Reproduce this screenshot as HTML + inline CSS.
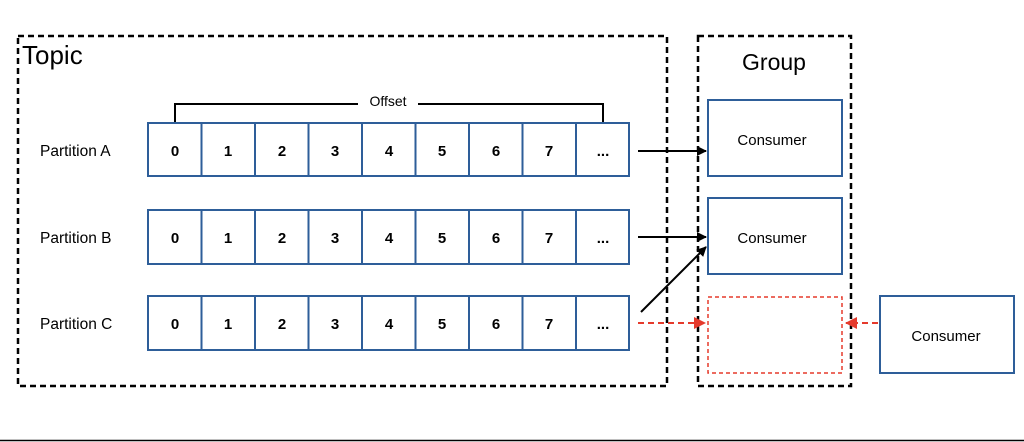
<!DOCTYPE html>
<html><head><meta charset="utf-8"><style>
html,body{margin:0;padding:0;background:#fff;}
svg{display:block;}
text{font-family:"Liberation Sans",Arial,sans-serif;fill:#000;}
</style></head><body>
<svg width="1024" height="442" viewBox="0 0 1024 442" xmlns="http://www.w3.org/2000/svg">
<defs>
<marker id="ab" markerWidth="10" markerHeight="10" refX="9" refY="5" orient="auto" markerUnits="userSpaceOnUse"><path d="M0,0 L10,5 L0,10 z" fill="#000"/></marker>
<marker id="ar" markerWidth="12" markerHeight="12" refX="11" refY="6" orient="auto" markerUnits="userSpaceOnUse"><path d="M0,0 L12,6 L0,12 z" fill="#e53a2c"/></marker>
</defs>
<rect x="18" y="36" width="649" height="350" fill="none" stroke="#000" stroke-width="2.5" stroke-dasharray="6,4"/>
<text x="22" y="64" font-size="26">Topic</text>
<rect x="698" y="36" width="153" height="350" fill="none" stroke="#000" stroke-width="2.5" stroke-dasharray="6,4"/>
<text x="774" y="70" font-size="23" text-anchor="middle">Group</text>
<path d="M175,122 V104 H358 M418,104 H603 V122" fill="none" stroke="#000" stroke-width="2"/>
<text x="388" y="106" font-size="14" text-anchor="middle">Offset</text>
<text x="40" y="156" font-size="15.5">Partition A</text>
<text x="40" y="243" font-size="15.5">Partition B</text>
<text x="40" y="329" font-size="15.5">Partition C</text>
<g fill="#fff" stroke="#2e5e99" stroke-width="2">
<rect x="148" y="123" width="481" height="53"/>
<rect x="148" y="210" width="481" height="54"/>
<rect x="148" y="296" width="481" height="54"/>
<path d="M201.5,123V176M255,123V176M308.5,123V176M362,123V176M415.5,123V176M469,123V176M522.5,123V176M576,123V176
M201.5,210V264M255,210V264M308.5,210V264M362,210V264M415.5,210V264M469,210V264M522.5,210V264M576,210V264
M201.5,296V350M255,296V350M308.5,296V350M362,296V350M415.5,296V350M469,296V350M522.5,296V350M576,296V350"/>
</g>
<g font-size="15" font-weight="bold" text-anchor="middle">
<text y="156"><tspan x="175">0</tspan><tspan x="228">1</tspan><tspan x="282">2</tspan><tspan x="335">3</tspan><tspan x="389">4</tspan><tspan x="442">5</tspan><tspan x="496">6</tspan><tspan x="549">7</tspan><tspan x="603">...</tspan></text>
<text y="243"><tspan x="175">0</tspan><tspan x="228">1</tspan><tspan x="282">2</tspan><tspan x="335">3</tspan><tspan x="389">4</tspan><tspan x="442">5</tspan><tspan x="496">6</tspan><tspan x="549">7</tspan><tspan x="603">...</tspan></text>
<text y="329"><tspan x="175">0</tspan><tspan x="228">1</tspan><tspan x="282">2</tspan><tspan x="335">3</tspan><tspan x="389">4</tspan><tspan x="442">5</tspan><tspan x="496">6</tspan><tspan x="549">7</tspan><tspan x="603">...</tspan></text>
</g>
<rect x="708" y="100" width="134" height="76" fill="#fff" stroke="#2e5e99" stroke-width="2"/>
<text x="772" y="145" font-size="15" text-anchor="middle">Consumer</text>
<rect x="708" y="198" width="134" height="76" fill="#fff" stroke="#2e5e99" stroke-width="2"/>
<text x="772" y="243" font-size="15" text-anchor="middle">Consumer</text>
<rect x="708" y="297" width="134" height="76" fill="none" stroke="#e53a2c" stroke-width="1.5" stroke-dasharray="4,3"/>
<rect x="880" y="296" width="134" height="77" fill="#fff" stroke="#2e5e99" stroke-width="2"/>
<text x="946" y="341" font-size="15" text-anchor="middle">Consumer</text>
<line x1="638" y1="151" x2="706" y2="151" stroke="#000" stroke-width="2" marker-end="url(#ab)"/>
<line x1="638" y1="237" x2="706" y2="237" stroke="#000" stroke-width="2" marker-end="url(#ab)"/>
<line x1="641" y1="312" x2="706" y2="247" stroke="#000" stroke-width="2" marker-end="url(#ab)"/>
<line x1="638" y1="323" x2="705" y2="323" stroke="#e53a2c" stroke-width="2" stroke-dasharray="6,4" marker-end="url(#ar)"/>
<line x1="878" y1="323" x2="846" y2="323" stroke="#e53a2c" stroke-width="2" stroke-dasharray="6,4" marker-end="url(#ar)"/>
<line x1="0" y1="440.5" x2="1024" y2="440.5" stroke="#000" stroke-width="1.5"/>
</svg>
</body></html>
